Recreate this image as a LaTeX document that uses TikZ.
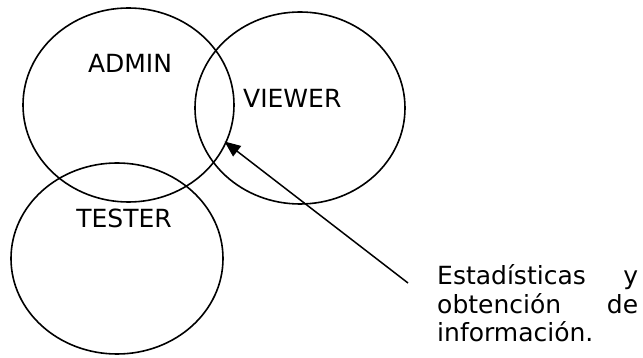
\documentclass[tikz,border=0pt]{standalone}
\usepackage{fontspec}
\setmainfont{DejaVu Sans}
\usetikzlibrary{shapes.geometric,arrows.meta}
\newcommand\labelsize{\fontsize{25}{28.5}\selectfont}
\begin{document}
\begin{tikzpicture}[x=1pt,y=-1pt,
  set/.style={draw,ellipse,line width=1.6pt,inner sep=0pt},
  lbl/.style={inner sep=0pt,font=\labelsize},
  pointer/.style={line width=1.5pt,-{Triangle[length=16pt,width=13pt]}}]
  \useasboundingbox (0,0) rectangle (643,358);
  % the three sets
  \node[set,minimum width=211pt,minimum height=194pt] (admin) at (128.5,105) {};
  \node[set,minimum width=210pt,minimum height=192pt] (viewer) at (300,108) {};
  \node[set,minimum width=212pt,minimum height=191pt] (tester) at (117,258.5) {};
  % set names
  \node[lbl,anchor=base] (tadmin) at (130,73) {ADMIN};
  \node[lbl,anchor=base west] (tviewer) at (243,108) {VIEWER};
  \node[lbl,anchor=base] (ttester) at (124,228) {TESTER};
  % callout text: justified block, three lines 28.5pt apart
  \node[lbl,anchor=base west] (note) at (437,285)
    {\begin{minipage}[t]{201pt}\labelsize
     Estadísticas\hfill y\par
     obtención\hfill de\par
     información.\hfill\null
     \end{minipage}};
  % callout pointer into the ADMIN/VIEWER overlap
  \coordinate (from) at (408,283);
  \coordinate (overlap) at (224.5,141.5);
  \draw[pointer] (from) -- (overlap);
\end{tikzpicture}
\end{document}
